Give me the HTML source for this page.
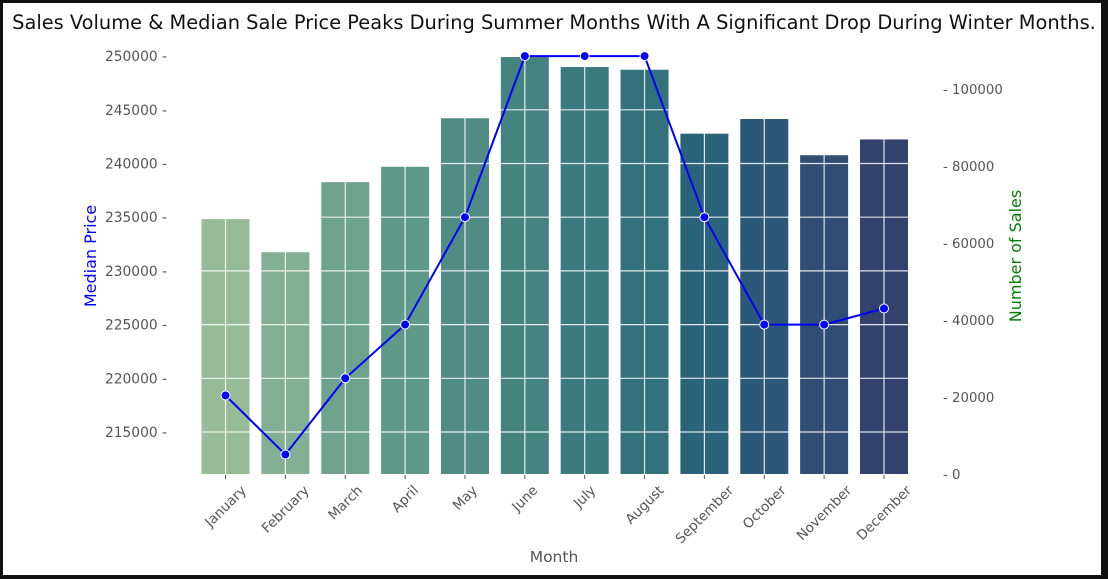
<!DOCTYPE html>
<html><head><meta charset="utf-8">
<style>
body{margin:0;background:#111;}
#wrap{position:absolute;left:3px;top:3px;width:1098px;height:572px;background:#fff;}
svg{position:absolute;left:0;top:0;}
text{font-family:"DejaVu Sans","Liberation Sans",sans-serif;}
</style></head>
<body>
<div id="wrap"></div>
<svg id="chart" width="1108" height="579"></svg>
<script>
const months=["January","February","March","April","May","June","July","August","September","October","November","December"];
const salesCounts=[66200,57600,75800,79800,92400,108300,105700,105000,88400,92200,82800,86900];
const medianPrices=[218400,212900,220000,225000,235000,250000,250000,250000,235000,225000,225000,226500];
const priceTicks=[215000,220000,225000,230000,235000,240000,245000,250000];
const salesTicks=[0,20000,40000,60000,80000,100000];
const barColors=["#96bb97","#83af92","#6ea38d","#5f9a89","#508b84","#448380","#3b7a7e","#33727d","#2b637a","#2b5877","#304d74","#33426c"];

const NS="http://www.w3.org/2000/svg";
const svg=document.getElementById('chart');
function el(tag,attrs,parent){const e=document.createElementNS(NS,tag);for(const k in attrs)e.setAttribute(k,attrs[k]);(parent||svg).appendChild(e);return e;}
const x0=195.6,step=59.86,plotBottom=474,plotTop=50;
const xc=i=>x0+step*(i+0.5);
const yP=v=>432-(v-215000)/5000*53.7;
const yS=v=>474-v/100000*385;

const bars=el('g',{});


salesCounts.forEach((v,i)=>{
  const r=el('rect',{x:xc(i)-24,y:yS(v),width:48,height:plotBottom-yS(v),fill:barColors[i]},bars);
  
  
});
const grid=el('g',{stroke:'#fff','stroke-width':1.2,opacity:0.85});


priceTicks.forEach(t=>el('line',{x1:x0,x2:x0+step*12,y1:yP(t),y2:yP(t)},grid));
months.forEach((m,i)=>el('line',{x1:xc(i),x2:xc(i),y1:plotTop,y2:plotBottom},grid));

const la=el('g',{});


priceTicks.forEach(t=>{
  const tx=el('text',{x:167,y:yP(t)+5,'text-anchor':'end','font-size':13.8,fill:'#555'},la);
  tx.textContent=t+' -';
});
const ra=el('g',{});


salesTicks.forEach(t=>{
  const tx=el('text',{x:943,y:yS(t)+5,'font-size':13.3,fill:'#555'},ra);
  tx.textContent='- '+t;
});
const xa=el('g',{});


months.forEach((m,i)=>{
  el('line',{x1:xc(i),x2:xc(i),y1:475,y2:479,stroke:'#555','stroke-width':1},xa);
  const tx=el('text',{x:0,y:0,'text-anchor':'middle','font-size':13.6,fill:'#555'},xa);
  tx.textContent=m;
  const w=tx.getComputedTextLength();
  const cy=483+(w+14)*0.707/2;
  tx.setAttribute('x',xc(i));
  tx.setAttribute('y',cy+4.5);
  tx.setAttribute('transform',`rotate(-45 ${xc(i)} ${cy})`);
});
const pts=medianPrices.map((v,i)=>xc(i)+','+yP(v)).join(' ');
const ln=el('polyline',{points:pts,fill:'none',stroke:'#0000ff','stroke-width':2});


medianPrices.forEach((v,i)=>{
  const c=el('circle',{cx:xc(i),cy:yP(v),r:4.5,fill:'#0000ff',stroke:'#fff','stroke-width':1});
  
  
});
</script>
<svg width="1108" height="579" style="position:absolute;left:0;top:0;pointer-events:none">
<text x="554" y="29" text-anchor="middle" font-size="19.4" fill="#111">Sales Volume &amp; Median Sale Price Peaks During Summer Months With A Significant Drop During Winter Months.</text>
<text x="554" y="562" text-anchor="middle" font-size="15.5" fill="#555">Month</text>
<text transform="translate(96 256) rotate(-90)" text-anchor="middle" font-size="16" fill="#0000ff">Median Price</text>
<text transform="translate(1021 256) rotate(-90)" text-anchor="middle" font-size="16" fill="#008000">Number of Sales</text>
</svg>
</body></html>
